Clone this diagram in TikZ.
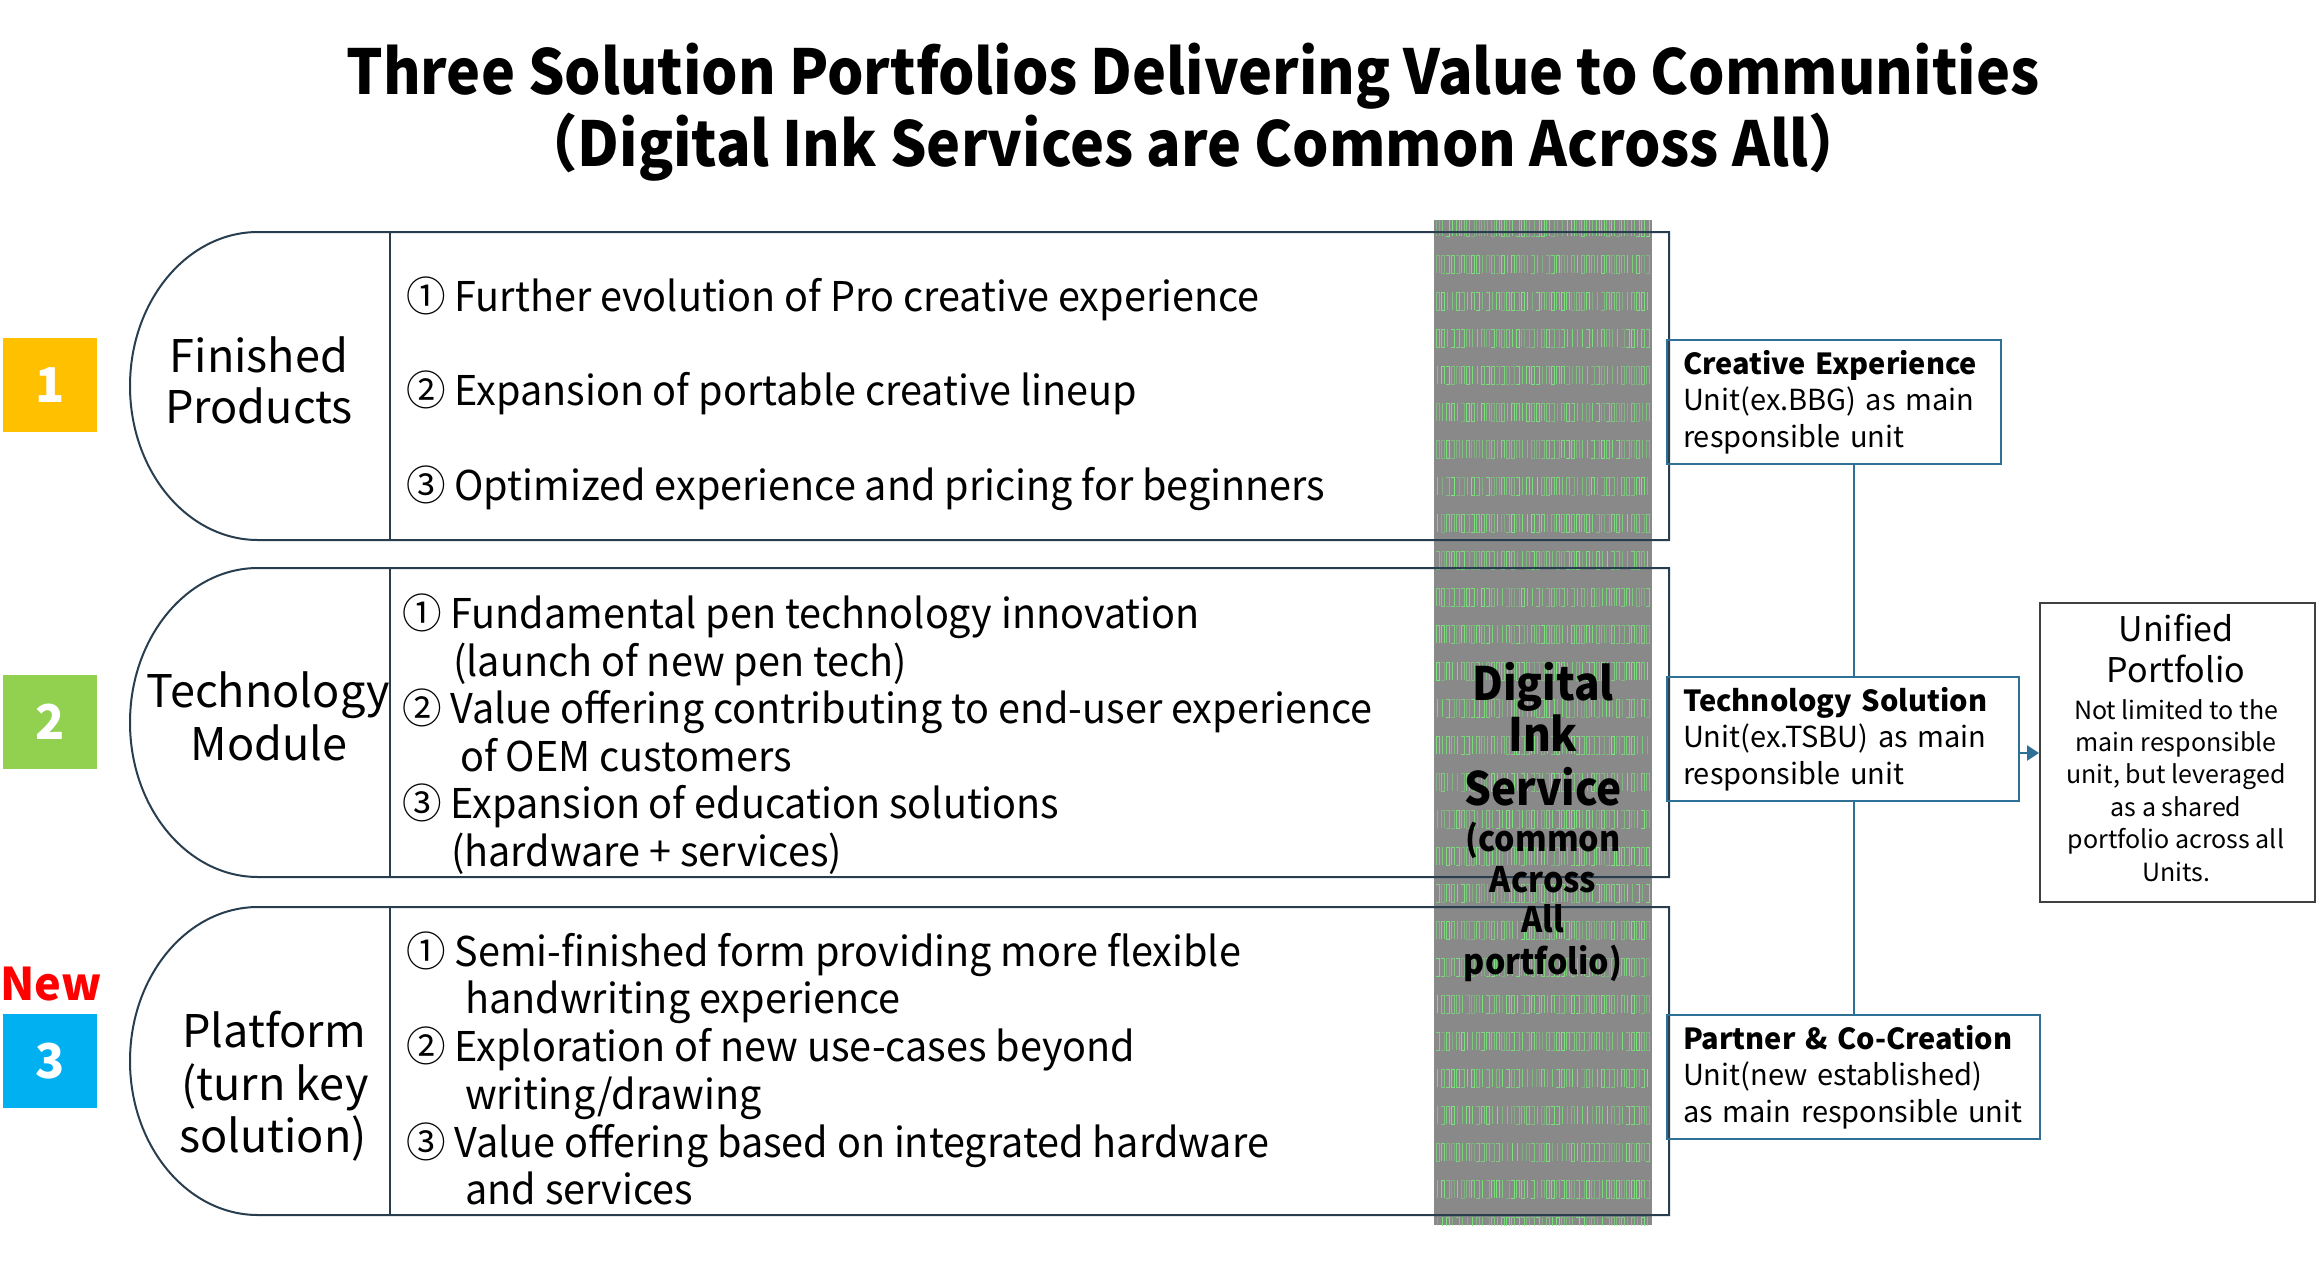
\documentclass[tikz,border=0pt]{standalone}
\usepackage{fontspec}
\setmainfont{Noto Sans CJK JP}
\newfontfamily\titlefont[FakeStretch=0.925]{Noto Sans CJK JP}
\newfontfamily\itemfont[FakeStretch=0.965]{Noto Sans CJK JP}
\newfontfamily\colfont[FakeStretch=0.92]{Noto Sans CJK JP}
\usetikzlibrary{arrows.meta}
\definecolor{boxline}{RGB}{40,62,78}
\definecolor{unitblue}{RGB}{46,112,150}
\definecolor{colgray}{RGB}{137,137,137}
\definecolor{glyphgreen}{RGB}{120,235,120}
\definecolor{badgeyellow}{RGB}{255,192,0}
\definecolor{badgegreen}{RGB}{146,208,80}
\definecolor{badgeblue}{RGB}{0,176,240}
\newcommand\fs[2]{\fontsize{#1}{#2}\selectfont}
\newcommand\myrow[2]{%
  \draw[rowline] (258,#2) arc[start angle=90,end angle=270,x radius=128,y radius={(#2-#1)/2}] -- (1669,#1) -- (1669,#2) -- cycle;
  \draw[rowline] (390,#1) -- (390,#2);}
\begin{document}
\begin{tikzpicture}[x=1pt,y=-1pt,
  rowline/.style={draw=boxline, line width=2pt},
  itemtxt/.style={anchor=base west, inner sep=0pt, font=\itemfont\fs{41}{48}},
  labtxt/.style={anchor=base, inner sep=0pt, font=\fs{45}{52}},
  coltxtA/.style={anchor=base, inner sep=0pt, font=\colfont\fs{46}{52}\bfseries},
  coltxtB/.style={anchor=base, inner sep=0pt, font=\colfont\fs{35}{41}\bfseries},
  unitbox/.style={draw=unitblue, line width=2pt, anchor=north west, align=left, inner xsep=16pt, inner ysep=0pt, minimum height=124pt, font=\fs{29}{36.5}},
  badge/.style={minimum size=94pt, inner sep=0pt, text=white, font=\fs{48}{50}\bfseries},
  glyph/.style={draw=glyphgreen, line width=1pt},
  titletxt/.style={anchor=base, inner sep=0pt, font=\titlefont\fs{62}{72}\bfseries},
  uptxt/.style={anchor=base, inner sep=0pt, font=\fs{25}{30}},
]
\useasboundingbox (0,0) rectangle (2320,1264);

% title
\node[titletxt] (title1) at (1193,94) {Three Solution Portfolios Delivering Value to Communities};
\node[titletxt] (title2) at (1193,166) {（Digital Ink Services are Common Across All）};

% digital ink column
\fill[colgray] (1434,220) rectangle (1652,1225);
\begin{scope}
\clip (1434,220) rectangle (1652,1225);
\pgfmathsetseed{7}
\foreach \r in {0,...,27}{
  \foreach \c in {0,...,42}{
    \pgfmathrandominteger{\k}{0}{3}
    \pgfmathsetmacro{\op}{0.35+0.6*rnd}
    \pgfmathsetmacro{\xx}{1436+\c*5}
    \pgfmathsetmacro{\yy}{218+\r*37}
    \ifcase\k
      \draw[glyph, draw opacity=\op] (\xx,\yy) rectangle ++(3.5,18);
    \or
      \draw[glyph, draw opacity=\op] (\xx+1.7,\yy) -- ++(0,18);
    \or
      \draw[glyph, draw opacity=\op] (\xx,\yy) -- ++(3.5,0) -- ++(0,18) -- ++(-3.5,0);
    \or
      \draw[glyph, draw opacity=\op] (\xx,\yy+18) -- ++(0,-18) -- ++(3.5,0) -- ++(0,18);
    \fi
  }
}
\end{scope}

% row boxes
\myrow{232}{540}
\myrow{568}{877}
\myrow{907}{1215}

% column text
\node[coltxtA] (dis1) at (1543,700) {Digital};
\node[coltxtA] (dis2) at (1543,751) {Ink};
\node[coltxtA] (dis3) at (1543,805) {Service};
\node[coltxtB] (dis4) at (1543,851) {(common};
\node[coltxtB] (dis5) at (1543,892) {Across};
\node[coltxtB] (dis6) at (1543,932) {All};
\node[coltxtB] (dis7) at (1543,974) {portfolio)};

% badges
\node[badge, fill=badgeyellow] (b1) at (50,385) {1};
\node[badge, fill=badgegreen] (b2) at (50,722) {2};
\node[badge, fill=badgeblue] (b3) at (50,1061) {3};
\node[anchor=base, inner sep=0pt, text=red, font=\fs{45}{50}\bfseries] (new) at (51,1000) {New};

% left labels
\node[labtxt] (l1a) at (259,372) {Finished};
\node[labtxt] (l1b) at (259,423) {Products};
\node[labtxt] (l2a) at (268,707) {Technology};
\node[labtxt] (l2b) at (269,760) {Module};
\node[labtxt] (l3a) at (274,1047) {Platform};
\node[labtxt] (l3b) at (275,1100) {(turn key};
\node[labtxt] (l3c) at (273,1152) {solution)};

% items row 1
\node[itemtxt] (i11) at (406,311) {① Further evolution of Pro creative experience};
\node[itemtxt] (i12) at (406,405) {② Expansion of portable creative lineup};
\node[itemtxt] (i13) at (406,500) {③ Optimized experience and pricing for beginners};
% items row 2
\node[itemtxt] (i21) at (402,628) {① Fundamental pen technology innovation};
\node[itemtxt] (i21b) at (453,676) {(launch of new pen tech)};
\node[itemtxt] (i22) at (402,723) {② Value offering contributing to end-user experience};
\node[itemtxt] (i22b) at (460,771) {of OEM customers};
\node[itemtxt] (i23) at (402,818) {③ Expansion of education solutions};
\node[itemtxt] (i23b) at (451,866) {(hardware + services)};
% items row 3
\node[itemtxt] (i31) at (406,966) {① Semi-finished form providing more flexible};
\node[itemtxt] (i31b) at (465,1013) {handwriting experience};
\node[itemtxt] (i32) at (406,1061) {② Exploration of new use-cases beyond};
\node[itemtxt] (i32b) at (465,1109) {writing/drawing};
\node[itemtxt] (i33) at (406,1157) {③ Value offering based on integrated hardware};
\node[itemtxt] (i33b) at (465,1204) {and services};

% unit boxes
\node[unitbox, text width=302pt] (ce) at (1666,339) {\textbf{Creative Experience}\\Unit(ex.BBG) as main\\responsible unit};
\node[unitbox, text width=320pt] (ts) at (1666,676) {\textbf{Technology Solution}\\Unit(ex.TSBU) as main\\responsible unit};
\node[unitbox, text width=341pt] (pc) at (1666,1014) {\textbf{Partner \& Co-Creation}\\Unit(new established)\\as main responsible unit};

% unified portfolio
\node[draw=black!75, line width=2pt, minimum width=275pt, minimum height=299pt, anchor=north west, inner sep=0pt] (up) at (2039,602) {};
\node[anchor=base, inner sep=0pt, font=\fs{34}{41}] (upa) at (2176,641) {Unified};
\node[anchor=base, inner sep=0pt, font=\fs{34}{41}] (upb) at (2176,682) {Portfolio};
\foreach \t [count=\i from 0] in {Not limited to the, main responsible, {unit, but leveraged}, as a shared, portfolio across all, Units.}
  \node[uptxt] (upl\i) at (2176,719+\i*32.4) {\t};

% connectors
\draw[unitblue, line width=2pt] (ce.south -| pc.north) -- (ts.north -| pc.north);
\draw[unitblue, line width=2pt] (ts.south -| pc.north) -- (pc.north);
\coordinate (as) at ([yshift=-14pt]ts.east);
\draw[unitblue, line width=2.5pt, -{Triangle[length=12pt,width=15pt]}] (as) -- (as -| up.west);
\end{tikzpicture}
\end{document}
